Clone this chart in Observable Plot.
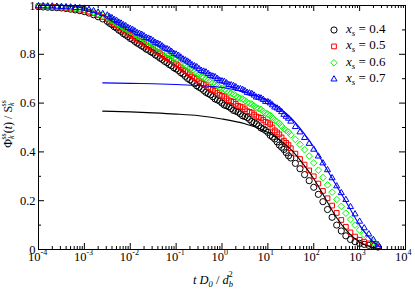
<!DOCTYPE html>
<html><head><meta charset="utf-8">
<script src="https://cdn.jsdelivr.net/npm/d3@7"></script>
<script src="https://cdn.jsdelivr.net/npm/@observablehq/plot@0.6"></script>
<style>
body{margin:0;background:#fff;}
#chart svg, #chart svg text{font-family:"Liberation Serif","Times New Roman",Times,"DejaVu Serif",serif !important;}
</style>
</head><body><div id="chart"></div>
<script>
// log10 of the reduced time t D0 / db^2 for the measured points
const logT = [-4.0,-3.9,-3.8,-3.7,-3.6,-3.5,-3.4,-3.3,-3.2,-3.1,-3.0,-2.9,-2.8,-2.7,-2.6,
 -2.5,-2.45,-2.4,-2.35,-2.3,-2.25,-2.2,-2.15,-2.1,-2.05,-2.0,-1.95,-1.9,-1.85,-1.8,-1.75,-1.7,-1.65,-1.6,-1.55,
 -1.5,-1.45,-1.4,-1.35,-1.3,-1.25,-1.2,-1.15,-1.1,-1.05,-1.0,-0.95,-0.9,-0.85,-0.8,-0.75,-0.7,-0.65,-0.6,-0.55,
 -0.5,-0.45,-0.4,-0.35,-0.3,-0.25,-0.2,-0.15,-0.1,-0.05,0.0,0.05,0.1,0.15,0.2,0.25,0.3,0.35,0.4,0.45,
 0.5,0.55,0.6,0.65,0.7,0.75,0.8,0.85,0.9,0.95,1.0,1.05,1.1,1.15,1.2,1.25,1.3,1.35,1.4,1.45,1.5,
 1.6,1.7,1.8,1.9,2.0,2.1,2.2,2.3,2.4,2.5,2.6,2.7,2.8,2.9,3.0,3.1,3.2,3.3,3.4];
const xs04 = [0.995,0.994,0.993,0.992,0.991,0.990,0.988,0.985,0.982,0.979,0.975,0.969,0.962,0.954,0.945,
 0.935,0.927,0.922,0.913,0.908,0.899,0.894,0.885,0.879,0.873,0.865,0.861,0.853,0.846,0.841,0.834,0.829,0.821,0.817,0.810,
 0.805,0.797,0.792,0.784,0.779,0.771,0.766,0.758,0.753,0.745,0.740,0.734,0.725,0.719,0.710,0.701,0.695,0.689,0.680,0.671,
 0.665,0.660,0.652,0.644,0.639,0.634,0.626,0.617,0.613,0.608,0.600,0.592,0.589,0.585,0.578,0.570,0.567,0.563,0.556,0.548,
 0.545,0.541,0.533,0.524,0.520,0.515,0.507,0.498,0.494,0.488,0.480,0.468,0.461,0.453,0.441,0.428,0.419,0.410,0.397,0.384,0.375,
 0.353,0.331,0.307,0.282,0.255,0.226,0.196,0.164,0.132,0.100,0.076,0.056,0.041,0.032,0.025,0.021,0.017,0.014,0.010];
const xs05 = [0.997,0.996,0.995,0.994,0.993,0.992,0.990,0.988,0.986,0.983,0.980,0.974,0.968,0.961,0.953,
 0.945,0.937,0.932,0.924,0.919,0.911,0.906,0.898,0.893,0.885,0.880,0.875,0.868,0.860,0.856,0.851,0.844,0.836,0.832,0.827,
 0.820,0.812,0.808,0.803,0.796,0.788,0.784,0.779,0.772,0.764,0.760,0.754,0.746,0.737,0.732,0.727,0.718,0.709,0.704,0.699,
 0.690,0.682,0.678,0.674,0.666,0.658,0.654,0.650,0.642,0.634,0.630,0.627,0.619,0.611,0.608,0.605,0.597,0.589,0.586,0.583,
 0.575,0.567,0.564,0.561,0.553,0.545,0.542,0.539,0.531,0.523,0.520,0.513,0.500,0.488,0.480,0.472,0.459,0.446,0.437,0.428,0.415,
 0.393,0.371,0.348,0.324,0.300,0.270,0.240,0.210,0.180,0.150,0.121,0.093,0.070,0.053,0.040,0.032,0.025,0.018,0.012];
const xs06 = [0.998,0.997,0.997,0.996,0.995,0.994,0.993,0.991,0.989,0.987,0.984,0.979,0.973,0.967,0.960,
 0.952,0.945,0.940,0.932,0.928,0.921,0.917,0.909,0.905,0.898,0.893,0.889,0.882,0.875,0.871,0.867,0.860,0.853,0.849,0.845,
 0.838,0.830,0.826,0.822,0.815,0.807,0.803,0.799,0.792,0.784,0.780,0.775,0.767,0.759,0.754,0.749,0.741,0.733,0.728,0.723,
 0.715,0.707,0.704,0.700,0.693,0.685,0.682,0.679,0.671,0.663,0.660,0.657,0.650,0.643,0.640,0.637,0.630,0.623,0.620,0.617,
 0.610,0.602,0.599,0.596,0.588,0.580,0.577,0.574,0.566,0.558,0.555,0.549,0.539,0.529,0.523,0.517,0.506,0.495,0.488,0.481,0.470,
 0.451,0.431,0.409,0.383,0.355,0.325,0.295,0.265,0.235,0.205,0.177,0.149,0.123,0.100,0.080,0.062,0.045,0.030,0.015];
const xs07 = [0.998,0.998,0.997,0.997,0.996,0.995,0.994,0.993,0.991,0.990,0.988,0.983,0.978,0.972,0.966,
 0.960,0.953,0.949,0.942,0.938,0.931,0.927,0.920,0.916,0.909,0.905,0.901,0.895,0.888,0.885,0.881,0.875,0.868,0.865,0.861,
 0.855,0.848,0.844,0.840,0.833,0.825,0.822,0.818,0.811,0.803,0.800,0.795,0.788,0.780,0.776,0.771,0.764,0.756,0.752,0.748,
 0.740,0.733,0.730,0.727,0.720,0.713,0.710,0.707,0.700,0.693,0.690,0.688,0.682,0.675,0.674,0.671,0.666,0.659,0.658,0.655,
 0.650,0.643,0.641,0.638,0.632,0.624,0.623,0.620,0.614,0.606,0.605,0.600,0.592,0.583,0.579,0.573,0.564,0.553,0.545,0.537,0.525,
 0.503,0.481,0.458,0.434,0.410,0.382,0.354,0.326,0.293,0.260,0.232,0.204,0.175,0.145,0.115,0.088,0.063,0.040,0.020];

// theory curves
const logTLine = [-2.6,-2.0,-1.5,-1.0,-0.5,0.0,0.5,1.0,1.25,1.5,1.75,2.0,2.25,2.5,2.75,3.0,3.25,3.45];
const line04 = [0.567,0.564,0.560,0.555,0.548,0.535,0.515,0.480,0.450,0.410,0.355,0.290,0.210,0.130,0.070,0.030,0.010,0.003];
const line07 = [0.683,0.681,0.679,0.676,0.672,0.664,0.645,0.610,0.580,0.540,0.485,0.420,0.340,0.260,0.180,0.100,0.040,0.010];

const seriesLabels = ["0.4","0.5","0.6","0.7"];
const seriesColors = ["#000000","#ff0000","#00ff00","#0000ff"];
const seriesSymbols = ["circle","square2","diamond2","triangle2"];
const seriesR = [3.1,3.0,3.0,2.9];
const seriesValues = [xs04, xs05, xs06, xs07];

const xDecades = [-4,-3,-2,-1,0,1,2,3,4];
const yMajor = [0,0.2,0.4,0.6,0.8,1];
const yMinor = [0.1,0.3,0.5,0.7,0.9];
const yLabels = ["0","0.2","0.4","0.6","0.8","1"];

const FONT = "Liberation Serif, Times New Roman, Times, DejaVu Serif, serif";
const W = 415, H = 289;
const mL = 38, mR = 10, mT = 5, mB = 40;
const iW = W - mL - mR, iH = H - mT - mB;

const pts = seriesValues.map(vals => vals.map((v, j) => ({t: Math.pow(10, logT[j]), v})));
const lines = [line04, line07].map(vals => vals.map((v, j) => ({t: Math.pow(10, logTLine[j]), v})));

const xMajorT = xDecades.map(e => Math.pow(10, e));
const xMinorT = [];
xDecades.slice(0, -1).forEach(e => { for (let k = 2; k <= 9; k++) xMinorT.push(k * Math.pow(10, e)); });

const marks = [];
seriesValues.forEach((_, i) => {
  marks.push(Plot.dot(pts[i], {x: "t", y: "v", symbol: () => seriesSymbols[i], r: seriesR[i], stroke: seriesColors[i], fill: "none", strokeWidth: 1}));
});
marks.push(Plot.line(lines[0], {x: "t", y: "v", stroke: "#000000", strokeWidth: 1.1, curve: "monotone-x"}));
marks.push(Plot.line(lines[1], {x: "t", y: "v", stroke: "#0000ff", strokeWidth: 1.1, curve: "monotone-x"}));
// inward ticks on all four sides
const tk = {stroke: "#000", strokeWidth: 1};
marks.push(Plot.tickX(xMajorT, {x: d => d, insetTop: iH - 6, ...tk}));
marks.push(Plot.tickX(xMinorT, {x: d => d, insetTop: iH - 3, ...tk}));
marks.push(Plot.tickX(xMajorT, {x: d => d, insetBottom: iH - 6, ...tk}));
marks.push(Plot.tickX(xMinorT, {x: d => d, insetBottom: iH - 3, ...tk}));
marks.push(Plot.tickY(yMajor, {y: d => d, insetRight: iW - 6, ...tk}));
marks.push(Plot.tickY(yMinor, {y: d => d, insetRight: iW - 3, ...tk}));
marks.push(Plot.tickY(yMajor, {y: d => d, insetLeft: iW - 6, ...tk}));
marks.push(Plot.tickY(yMinor, {y: d => d, insetLeft: iW - 3, ...tk}));
marks.push(Plot.frame({stroke: "#000", strokeWidth: 1}));
// tick labels
marks.push(Plot.text(xMajorT, {x: d => d, text: () => "10", frameAnchor: "bottom", textAnchor: "end", lineAnchor: "top", dx: 2, dy: 3, fontSize: 12.5, fontFamily: FONT, fill: "#000"}));
marks.push(Plot.text(xMajorT, {x: d => d, text: (d, i) => String(xDecades[i]), frameAnchor: "bottom", textAnchor: "start", lineAnchor: "top", dx: 2, dy: 0, fontSize: 8, fontFamily: FONT, fill: "#000"}));
marks.push(Plot.text(yMajor, {y: d => d, text: (d, i) => yLabels[i], frameAnchor: "left", textAnchor: "end", dx: -3, fontSize: 12.5, fontFamily: FONT, fill: "#000"}));

const svg = Plot.plot({
  width: W, height: H,
  marginLeft: mL, marginRight: mR, marginTop: mT, marginBottom: mB,
  x: {type: "log", domain: [1e-4, 1e4], axis: null},
  y: {domain: [0, 1], axis: null},
  style: {fontFamily: FONT, background: "#fff"},
  marks
});
document.getElementById("chart").appendChild(svg);

const s = d3.select(svg);
// x axis label: t D0 / db^2
const xl = s.append("text").attr("x", 213).attr("y", 284).attr("text-anchor", "middle")
  .attr("font-family", FONT).attr("font-size", 12.5).attr("fill", "#000");
xl.append("tspan").attr("font-style", "italic").text("t D");
xl.append("tspan").attr("font-style", "italic").attr("font-size", 8.5).attr("dy", 3).text("0");
xl.append("tspan").attr("dy", -3).text(" / ");
xl.append("tspan").attr("font-style", "italic").text("d");
xl.append("tspan").attr("font-style", "italic").attr("font-size", 8.5).attr("dy", 3).text("b");
xl.append("tspan").attr("font-size", 8.5).attr("dx", -4.5).attr("dy", -10).text("2");

// y axis label: Φ_k^ss(t) / S_k^ss
const yl = s.append("text").attr("transform", "translate(11.5,124) rotate(-90)").attr("text-anchor", "middle")
  .attr("font-family", FONT).attr("font-size", 12).attr("fill", "#000");
yl.append("tspan").text("Φ");
yl.append("tspan").attr("font-size", 8).attr("font-style", "italic").attr("dy", 2.5).text("k");
yl.append("tspan").attr("font-size", 8).attr("dx", -4).attr("dy", -8).text("ss");
yl.append("tspan").attr("dy", 5.5).text("(");
yl.append("tspan").attr("font-style", "italic").text("t");
yl.append("tspan").text(") / S");
yl.append("tspan").attr("font-size", 8).attr("font-style", "italic").attr("dy", 2.5).text("k");
yl.append("tspan").attr("font-size", 8).attr("dx", -4).attr("dy", -8).text("ss");

// legend
const symMap = {circle: d3.symbolCircle, square2: d3.symbolSquare2, diamond2: d3.symbolDiamond2, triangle2: d3.symbolTriangle2};
const lg = s.append("g");
seriesLabels.forEach((lab, i) => {
  const y0 = 30 + i * 16.4;
  lg.append("path").attr("transform", `translate(334,${y0})`)
    .attr("d", d3.symbol(symMap[seriesSymbols[i]], Math.PI * seriesR[i] * seriesR[i])())
    .attr("fill", "none").attr("stroke", seriesColors[i]).attr("stroke-width", 1);
  const t = lg.append("text").attr("x", 346).attr("y", y0 + 3).attr("text-anchor", "start")
    .attr("font-family", FONT).attr("font-size", 13).attr("fill", "#000");
  t.append("tspan").attr("font-style", "italic").text("x");
  t.append("tspan").attr("font-style", "italic").attr("font-size", 9).attr("dy", 3).text("s");
  t.append("tspan").attr("dy", -3).text(" = " + lab);
});
</script>
</body></html>
